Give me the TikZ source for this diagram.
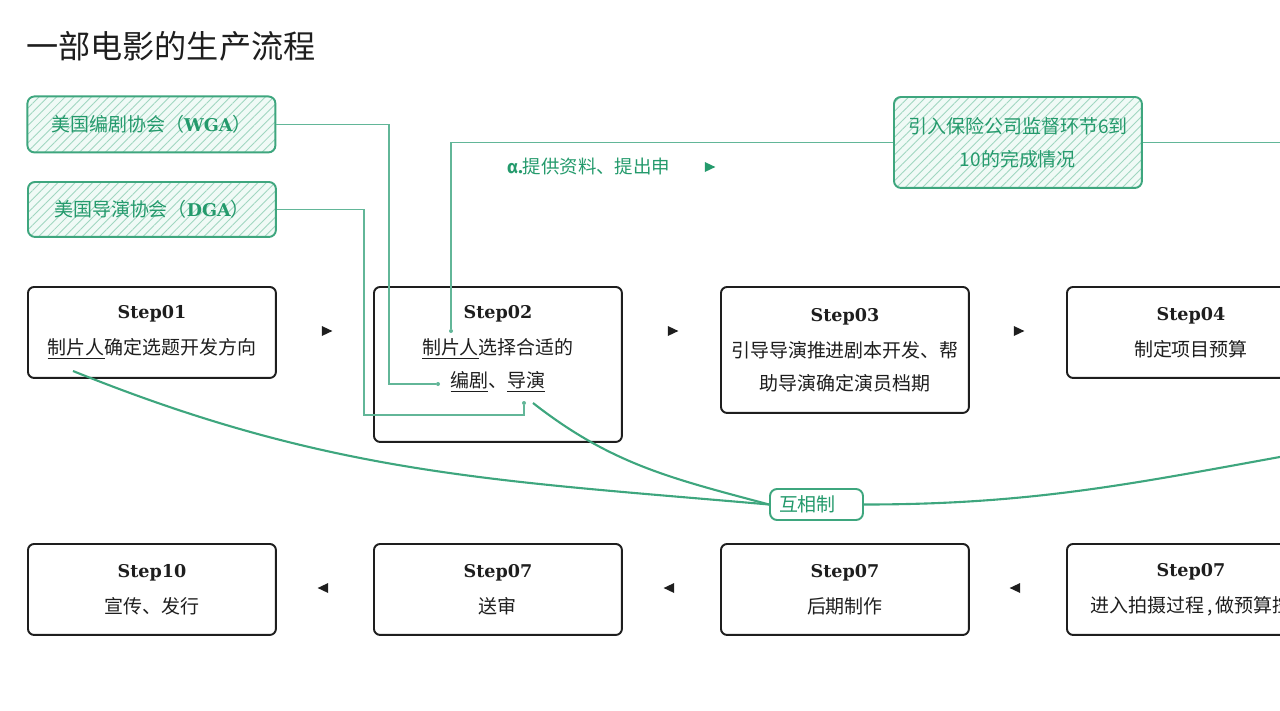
\documentclass[tikz,border=0pt]{standalone}
\usepackage{fontspec}
\setmainfont{Noto Sans CJK SC}
\newfontfamily\slabfont{DejaVu Serif}
\newfontfamily\greekfont{Fira Sans}
\usetikzlibrary{shapes.geometric,patterns.meta}

\definecolor{inkgreen}{RGB}{36,154,108}
\definecolor{edgegreen}{RGB}{62,166,126}
\definecolor{linkgreen}{RGB}{98,182,152}
\definecolor{hatchgreen}{RGB}{160,214,192}
\definecolor{mintgreen}{RGB}{240,250,246}
\definecolor{darkink}{RGB}{30,30,30}

\newcommand{\steplab}[1]{{\slabfont\bfseries\fontsize{10pt}{12pt}\selectfont #1}}
\newcommand{\orgtag}[1]{{\slabfont\bfseries\fontsize{10pt}{12pt}\selectfont #1}}

\tikzset{
  stepbox/.style={draw=darkink, line width=1.1pt, rounded corners=3.5pt,
    minimum width=4.96cm, anchor=north west, align=center, text=darkink,
    font=\fontsize{10.8pt}{18.7pt}\selectfont},
  steptext/.style={align=center, text=darkink, inner sep=0pt,
    font=\fontsize{10.8pt}{18.7pt}\selectfont},
  notebox/.style={draw=edgegreen, line width=1.1pt, rounded corners=4pt,
    minimum width=4.96cm, anchor=north west, align=center, text=inkgreen,
    preaction={fill=mintgreen},
    pattern={Lines[angle=45,distance=3.5pt,line width=0.5pt]},
    pattern color=hatchgreen,
    font=\fontsize{10.8pt}{18.7pt}\selectfont},
  mutualbox/.style={draw=edgegreen, line width=1.1pt, rounded corners=4pt,
    fill=white, text=inkgreen, minimum width=1.86cm, minimum height=0.62cm,
    text width=1.5cm, inner xsep=0.18cm, align=left,
    font=\fontsize{10.8pt}{13pt}\selectfont},
  fwd/.style={isosceles triangle, isosceles triangle stretches, fill=darkink,
    inner sep=0pt, minimum width=0.2cm, minimum height=0.21cm},
  bwd/.style={fwd, shape border rotate=180},
  link/.style={draw=linkgreen, line width=0.7pt},
  tie/.style={draw=edgegreen, line width=1.2pt},
  dot/.style={circle, fill=linkgreen, inner sep=0pt, minimum size=0.08cm},
}

\begin{document}
\begin{tikzpicture}[x=0.02cm, y=-0.02cm]
\useasboundingbox (0,0) rectangle (1280,710);
\clip (0,0) rectangle (1280,710);

% title
\node[anchor=west, text=darkink, font=\fontsize{18.3pt}{22pt}\selectfont] (title) at (20,46) {一部电影的生产流程};

% notes
\node[notebox, minimum height=1.12cm] (wga) at (27,96) {美国编剧协会（\orgtag{WGA}）};
\node[notebox, minimum height=1.1cm] (dga) at (27,181) {美国导演协会（\orgtag{DGA}）};
\node[notebox, minimum height=1.82cm] (ins) at (893,96) {引入保险公司监督环节6到\\10的完成情况};
\node[anchor=west, text=inkgreen, font=\fontsize{10.5pt}{12pt}\selectfont] (apply) at (501,167) {{\greekfont\bfseries α.}提供资料、提出申};
\node[fwd, fill=inkgreen] (applyarrow) at (708,167) {};

% top row
\node[stepbox, minimum height=1.82cm] (s01) at (27,286) {\steplab{Step01}\\[2pt]\underline{制片人}确定选题开发方向};
\node[stepbox, minimum height=3.1cm] (s02) at (373,286) {};
\node[steptext] (s02t) at ([yshift=0.31cm]s02.center) {\steplab{Step02}\\[2pt]\underline{制片人}选择合适的\\\underline{编剧}、\underline{导演}};
\node[stepbox, minimum height=2.52cm] (s03) at (720,286) {\steplab{Step03}\\[2pt]引导导演推进剧本开发、帮\\助导演确定演员档期};
\node[stepbox, minimum height=1.82cm] (s04) at (1066,286) {\steplab{Step04}\\[2pt]制定项目预算};

% bottom row
\node[stepbox, minimum height=1.82cm] (s10) at (27,543) {\steplab{Step10}\\[2pt]宣传、发行};
\node[stepbox, minimum height=1.82cm] (s09) at (373,543) {\steplab{Step07}\\[2pt]送审};
\node[stepbox, minimum height=1.82cm] (s08) at (720,543) {\steplab{Step07}\\[2pt]后期制作};
\node[stepbox, minimum height=1.82cm] (s07) at (1066,543) {\steplab{Step07}\\[2pt]进入拍摄过程\,,\,做预算控};

\foreach \x in {325,671,1017} {
  \node[fwd] (f\x) at (\x,331) {};
  \node[bwd] (b\x) at (\x,588) {};
}

% who feeds step02
\node[dot] (wgaend) at (438,384) {};
\node[dot] (dgaend) at (524,403) {};
\node[dot] (insend) at (451,331) {};
\draw[link] (wga.east) -| (389,384) -- (wgaend);
\draw[link] (dga.east) -| (364,415) -| (dgaend);
\draw[link] (ins.west) -| (insend);
\draw[link] (ins.east) -- ++(220,0);

% checks and balances
\node[mutualbox] (mutual) at (816.5,504.5) {互相制};
\coordinate (c1) at (73,371);
\coordinate (c2) at (533,403);
\coordinate (c3) at (1330,448);
\draw[tie] (c1) to[out=-22,in=175] (mutual.west);
\draw[tie] (c2) to[out=-38,in=165] (mutual.west);
\draw[tie] (mutual.east) to[out=0,in=190] (c3);
\end{tikzpicture}
\end{document}
